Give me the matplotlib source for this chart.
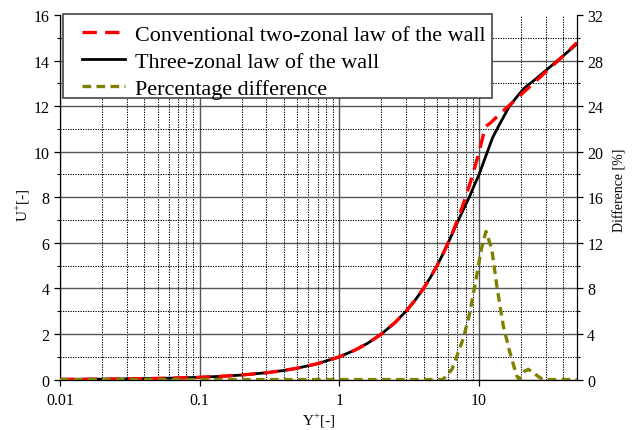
import matplotlib
matplotlib.use('Agg')
import matplotlib.pyplot as plt
import matplotlib.patches as mpatches
from matplotlib.ticker import FixedLocator, NullFormatter
import numpy as np

plt.rcParams['font.family'] = ['Liberation Serif', 'DejaVu Serif']
plt.rcParams['mathtext.fontset'] = 'custom'
plt.rcParams['mathtext.rm'] = 'Liberation Serif'

# ---- data ----
# three-zonal law of the wall (U+ vs Y+)
y_three = [0.01, 0.015, 0.02, 0.03, 0.05, 0.07, 0.1, 0.15, 0.2, 0.3, 0.4, 0.5,
           0.7, 1.0, 1.3, 1.6, 2.0, 2.5, 3.0, 3.5, 4.0, 4.5, 5.0, 5.5, 6.0,
           6.5, 7.0, 7.5, 8.0, 8.6, 9.2, 10.0, 11.0, 12.5, 14.0, 16.5, 19.0,
           21.0, 23.0, 25.0, 30.0, 35.0, 40.0, 50.0]
u_three = [0.01, 0.015, 0.02, 0.03, 0.05, 0.07, 0.1, 0.15, 0.2, 0.3, 0.4, 0.5,
           0.7, 1.0, 1.3, 1.6, 2.0, 2.5, 3.0, 3.5, 4.0, 4.5, 5.0, 5.5, 5.99,
           6.47, 6.9, 7.3, 7.66, 8.07, 8.5, 9.0, 9.7, 10.62, 11.2, 12.0, 12.47,
           12.78, 12.98, 13.15, 13.56, 13.91, 14.21, 14.72]

# conventional two-zonal law (viscous sublayer + log law)
y_two = [0.01, 0.015, 0.02, 0.03, 0.05, 0.07, 0.1, 0.15, 0.2, 0.3, 0.4, 0.5,
         0.7, 1.0, 1.3, 1.6, 2.0, 2.5, 3.0, 3.5, 4.0, 4.5, 5.0, 5.5, 6.0,
         6.5, 7.0, 7.5, 8.0, 8.6, 9.2, 10.0, 11.1, 12.0, 14.0, 17.0, 20.0,
         25.0, 30.0, 40.0, 50.0]
u_two = [0.01, 0.015, 0.02, 0.03, 0.05, 0.07, 0.1, 0.15, 0.2, 0.3, 0.4, 0.5,
         0.7, 1.0, 1.3, 1.6, 2.0, 2.5, 3.0, 3.5, 4.0, 4.5, 5.0, 5.5, 6.0,
         6.5, 7.0, 7.5, 8.0, 8.6, 9.2, 10.0, 11.1, 11.25, 11.64, 12.11, 12.51,
         13.05, 13.5, 14.2, 14.78]

# percentage difference between the two laws
y_diff = [0.01, 5.5, 6.4, 7.7, 8.6, 9.6, 10.4, 11.2, 12.3, 13.4, 14.9, 16.6,
          18.5, 19.3, 21.0, 22.5, 25.0, 28.5, 50.0]
d_diff = [0.0, 0.0, 0.9, 3.6, 5.9, 9.1, 11.5, 13.0, 11.5, 8.2, 4.7, 2.4,
          0.4, 0.0, 0.7, 0.9, 0.5, 0.0, 0.0]

fig, ax = plt.subplots(figsize=(6.38, 4.31), dpi=100)
fig.subplots_adjust(left=0.094, right=0.904, top=0.963, bottom=0.117)
ax2 = ax.twinx()

ax.set_xscale('log')
ax.set_xlim(0.01, 50)
ax.set_ylim(0, 16)
ax2.set_ylim(0, 32)

ax.xaxis.set_major_locator(FixedLocator([0.01, 0.1, 1, 10]))
ax.set_xticklabels(['0.01', '0.1', '1', '10'])
ax.xaxis.set_minor_locator(FixedLocator(
    [m * 10.0 ** e for e in range(-2, 2) for m in range(2, 10) if m * 10.0 ** e < 50]))
ax.xaxis.set_minor_formatter(NullFormatter())
ax.yaxis.set_major_locator(FixedLocator(np.arange(0, 17, 2)))
ax.yaxis.set_minor_locator(FixedLocator(np.arange(1, 16, 2)))
ax2.yaxis.set_major_locator(FixedLocator(np.arange(0, 33, 4)))
ax2.yaxis.set_minor_locator(FixedLocator(np.arange(2, 32, 4)))

ax.grid(which='major', color='#555555', linewidth=1.0, linestyle='-')
ax.grid(which='minor', color='black', linewidth=0.75, linestyle=(0, (1.2, 1.2)))
ax.yaxis.get_gridlines()[-1].set_visible(False)
ax.set_axisbelow(True)

for a in (ax, ax2):
    a.spines['top'].set_visible(False)
    a.tick_params(which='major', direction='out', length=4, width=0.9,
                  labelsize=11.5, colors='black')
    a.tick_params(which='minor', direction='out', length=2.5, width=0.8)
ax.tick_params(axis='x', which='minor', length=0)
ax.tick_params(axis='x', pad=5)

l_three, = ax.plot(y_three, u_three, color='black', linewidth=2.0,
                   label='Three-zonal law of the wall', zorder=3)
l_two, = ax.plot(y_two, u_two, color='#ff0000', linewidth=2.4,
                 linestyle=(0, (4.3, 2.5)),
                 label='Conventional two-zonal law of the wall', zorder=4)
l_diff, = ax2.plot(y_diff, d_diff, color='#808000', linewidth=2.4,
                   linestyle=(0, (2.6, 1.6)), label='Percentage difference',
                   zorder=5)

ax.set_xlabel('Y$^{\\mathregular{+}}$[-]', fontsize=11, labelpad=2)
ax.set_ylabel('U$^{\\mathregular{+}}$[-]', fontsize=11, labelpad=1)
ax.yaxis.label.set_y(0.48)
ax2.set_ylabel('Difference [%]', fontsize=10, labelpad=7)
ax2.yaxis.label.set_y(0.523)

# legend box drawn separately so the inner padding can be set freely
box = mpatches.Rectangle((0.0058, 0.772), 0.83, 0.231, transform=ax2.transAxes,
                         facecolor='white', edgecolor='#444444', linewidth=1.2,
                         zorder=6, clip_on=False)
ax2.add_patch(box)
leg = ax2.legend(handles=[l_two, l_three, l_diff], loc='upper left',
                 bbox_to_anchor=(0.042, 0.974), borderaxespad=0, fontsize=15.9,
                 frameon=False, handlelength=1.95, handletextpad=0.45,
                 labelspacing=0.3, borderpad=0)
leg.set_zorder(7)

fig.savefig('out.png', dpi=100)
